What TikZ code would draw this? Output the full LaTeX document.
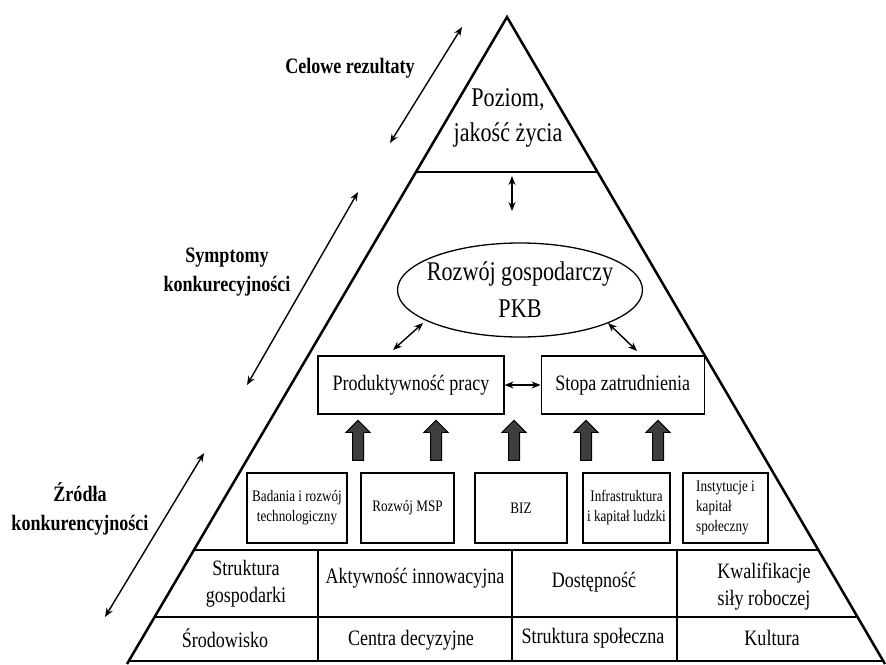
\documentclass[tikz,border=0pt]{standalone}
\usepackage{fontspec}
\setmainfont{Liberation Serif}[FakeStretch=0.82]
\usetikzlibrary{shapes,arrows,arrows.meta,positioning,calc}
\definecolor{arrowgray}{RGB}{62,62,62}

\begin{document}
\begin{tikzpicture}[x=1pt, y=-1pt,
    box/.style={draw, line width=1.2pt, minimum width=186pt, minimum height=58pt, font=\fontsize{22}{26}\selectfont},
    smallbox/.style={draw, line width=1.2pt, minimum height=70pt, inner sep=1pt, align=center, font=\fontsize{16}{20}\selectfont},
    cell/.style={align=center, font=\fontsize{22}{27}\selectfont},
    side/.style={align=center, font=\fontsize{22}{29}\selectfont\bfseries},
    arrow/.style={<->, line width=1.4pt, >={Stealth[length=9pt, width=7pt]}},
    uparrow/.style={single arrow, draw, fill=arrowgray, line width=1pt, shape border rotate=90,
        minimum height=40pt, single arrow head extend=6.5pt, inner sep=5pt}
]
\useasboundingbox (0,0) rectangle (886,664);

% Pyramid
\coordinate (apex) at (507,17);
\coordinate (bl) at (127,664);
\coordinate (br) at (885,664);
\draw[line width=2.5pt, line join=miter] (bl) -- (apex) -- (br);
\draw[line width=1.5pt] ($(apex)!0.2396!(bl)$) -- ($(apex)!0.2396!(br)$);
\draw[line width=1.5pt] ($(apex)!0.8238!(bl)$) -- ($(apex)!0.8238!(br)$);
\draw[line width=1.5pt] ($(apex)!0.9274!(bl)$) -- ($(apex)!0.9274!(br)$);
\draw[line width=1.5pt] ($(apex)!0.9954!(bl)$) -- ($(apex)!0.9954!(br)$);
\foreach \x in {318,512,677}
    \draw[line width=1.2pt] (\x,550) -- (\x,661);

% Top
\node[align=center, font=\fontsize{27}{35}\selectfont] (poziom) at (508,118) {Poziom,\\jakość życia};

% Economic growth
\node[ellipse, draw, line width=1.3pt, minimum width=245pt, minimum height=94pt, inner sep=0pt] (pkb) at (520,290) {};
\node[align=center, font=\fontsize{27}{37}\selectfont] (pkbtext) at (pkb) {Rozwój gospodarczy\\PKB};

% Productivity and employment
\node[box] (prod) at (411,385) {Produktywność pracy};
\node[box, minimum width=163pt, right=36pt of prod] (stopa) {Stopa zatrudnienia};

% Small boxes
\node[smallbox, minimum width=100pt] (badania) at (297,508) {Badania i rozwój\\technologiczny};
\node[smallbox, minimum width=93pt] (msp) at (407.5,508) {Rozwój MSP};
\node[smallbox, minimum width=92pt] (biz) at (521,508) {BIZ};
\node[smallbox, minimum width=87pt] (infra) at (626.5,508) {Infrastruktura\\i kapitał ludzki};
\node[smallbox, minimum width=85pt, align=left] (instyt) at (725.5,508) {Instytucje i\\kapitał\\społeczny};

% Thick arrows
\foreach \x [count=\i] in {358,436,514,586,658}
    \node[uparrow] (up\i) at (\x,443) {};

% Rows
\node[cell] (struktura) at (246,584) {Struktura\\gospodarki};
\node[cell] (aktyw) at (415,578) {Aktywność innowacyjna};
\node[cell] (dostep) at (594,582) {Dostępność};
\node[cell] (kwalif) at (764,587) {Kwalifikacje\\siły roboczej};
\node[cell] (srodow) at (225,638) {Środowisko};
\node[cell] (centra) at (411,640) {Centra decyzyjne};
\node[cell] (spol) at (593,638) {Struktura społeczna};
\node[cell] (kultura) at (772,638) {Kultura};

% Inner arrows
\coordinate (t1) at (512,176);
\coordinate (t2) at (512,211);
\coordinate (l1) at (423,323);
\coordinate (l2) at (393,350);
\coordinate (r1) at (608,323);
\coordinate (r2) at (637,351);
\draw[arrow] (t1) -- (t2);
\draw[arrow] (l1) -- (l2);
\draw[arrow] (r1) -- (r2);
\draw[arrow] (prod.east) -- (stopa.west);

% Side labels
\node[side] (celowe) at (350,68) {Celowe rezultaty};
\node[side] (sympt) at (227,272) {Symptomy\\konkurecyjności};
\node[side] (zrodla) at (80,509) {Źródła\\konkurencyjności};

\coordinate (c1) at (462,27);
\coordinate (c2) at (390,143);
\coordinate (s1) at (358,192);
\coordinate (s2) at (247,385);
\coordinate (z1) at (204,453);
\coordinate (z2) at (105,617);
\draw[arrow] (c1) -- (c2);
\draw[arrow] (s1) -- (s2);
\draw[arrow] (z1) -- (z2);

\end{tikzpicture}
\end{document}
